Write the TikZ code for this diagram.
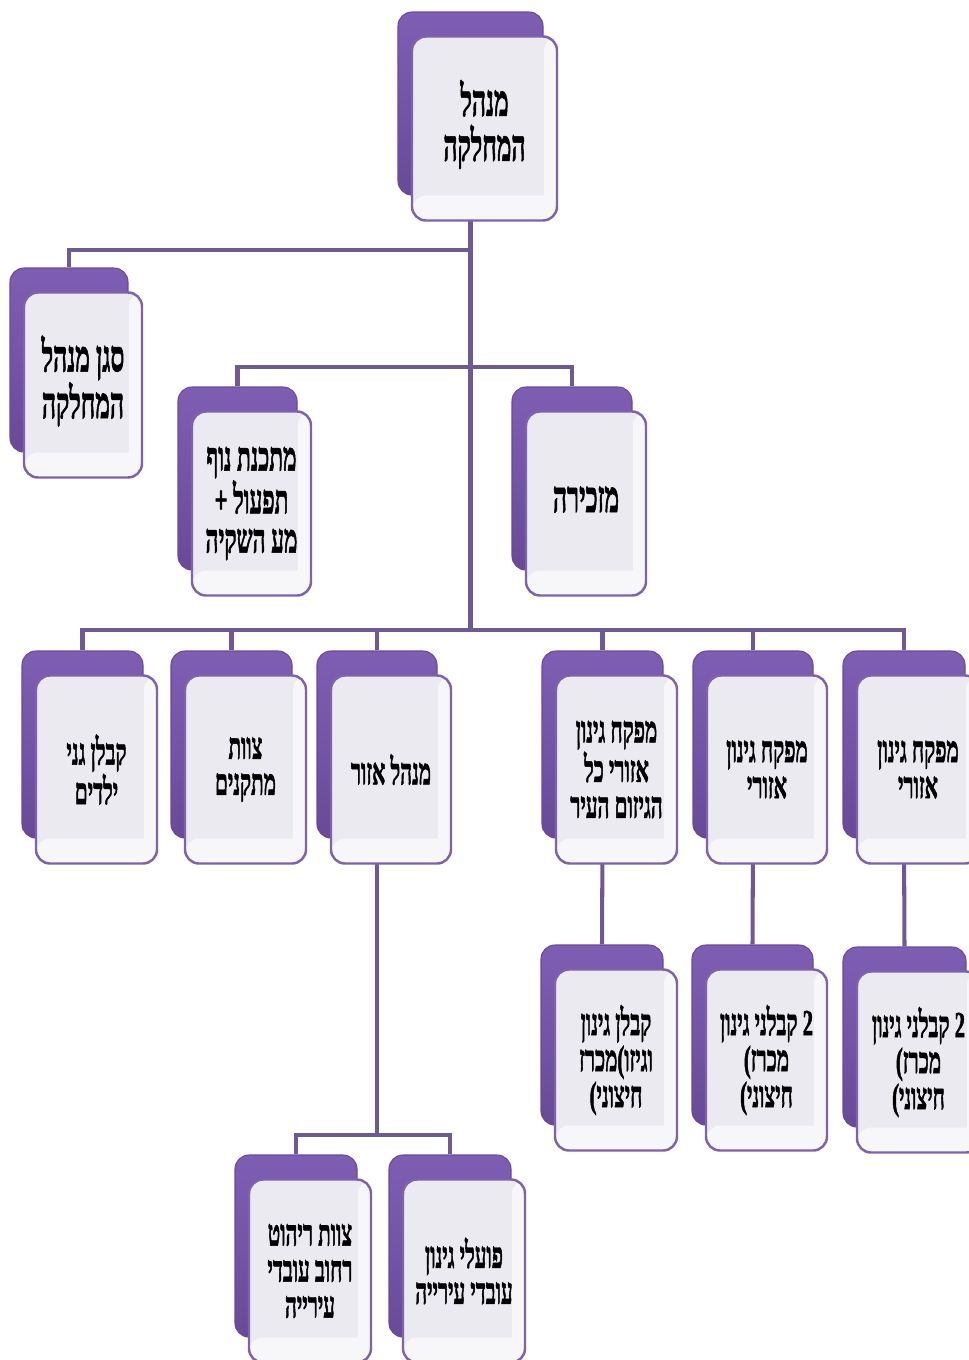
\documentclass[tikz,border=0pt]{standalone}
\usepackage{fontspec}
\newfontfamily\heb[Script=Hebrew,FakeStretch=0.56,BoldFeatures={FakeBold=1.2}]{Liberation Serif}
\newfontfamily\lat[FakeStretch=0.56,BoldFeatures={FakeBold=1.2}]{Liberation Serif}
\TeXXeTstate=1
\definecolor{pdark}{HTML}{684A98}
\definecolor{pmain}{HTML}{7E5EB3}
\definecolor{plight}{HTML}{C6A6F6}
\definecolor{frontfill}{HTML}{EBEAF0}
\definecolor{frontlight}{HTML}{F7F7F9}
\definecolor{frontedge}{HTML}{7E62AA}
\definecolor{linkcol}{HTML}{6E5A92}
\pgfdeclareverticalshading{backsh}{100bp}{color(0bp)=(pdark); color(25bp)=(pdark); color(75bp)=(pmain); color(90bp)=(pmain); color(100bp)=(plight)}
\pgfdeclarelayer{bg}
\pgfsetlayers{bg,main}
\newcommand\lp{\hbox{\lat\bfseries(}}
\newcommand\hw[1]{\hbox{\beginR #1\endR}}
\tikzset{
  backcard/.style={rectangle, rounded corners=0.28cm, shading=backsh, draw=pdark, line width=0.6pt, inner sep=0pt},
  frontcard/.style={rectangle, rounded corners=0.28cm, fill=frontfill, draw=frontedge, line width=1.4pt, inner sep=0pt,
    path picture={\fill[frontlight] (path picture bounding box.south west) rectangle ([yshift=0.5cm]path picture bounding box.south east);
                  \fill[frontlight] ([xshift=-0.26cm]path picture bounding box.south east) rectangle (path picture bounding box.north east);}},
  lbl/.style={align=center, inner sep=0pt, font=\heb\bfseries\fontsize{21}{20.5}\selectfont},
  midlbl/.style={align=center, inner sep=0pt, font=\heb\bfseries\fontsize{23}{22.3}\selectfont},
  biglbl/.style={align=center, inner sep=0pt, yshift=0.08cm, font=\heb\bfseries\fontsize{25}{25.5}\selectfont},
  link/.style={draw=linkcol, line width=2.3pt}
}
% #1 name, #2 x1, #3 y1, #4 x2, #5 y2, #6 label style, #7 text
\newcommand\orgbox[7]{%
  \node[backcard, minimum width={0.02cm*(#4-#2)}, minimum height={0.02cm*(#5-#3)}] (#1B) at ({(#2+#4)/2},{(#3+#5)/2}) {};
  \node[frontcard, minimum width={0.02cm*(#4-#2)}, minimum height={0.02cm*(#5-#3)+0.02cm}] (#1F) at ({(#2+#4)/2+14},{(#3+#5)/2+25}) {};
  \node[#6] (#1T) at (#1F.center) {#7};
}
\begin{document}
\begin{tikzpicture}[x=0.02cm, y=-0.02cm]
\useasboundingbox (0,0) rectangle (969,1360);

\orgbox{top}{398}{12}{543}{195}{biglbl}{\hw{מנהל}\\\hw{המחלקה}}
\orgbox{sgan}{10}{268}{128}{452}{biglbl}{\hw{סגן מנהל}\\\hw{המחלקה}}
\orgbox{mtkn}{178}{387}{297}{570}{midlbl}{\hw{מתכנת נוף}\\+ \hw{תפעול}\\\hw{מע השקיה}}
\orgbox{mzk}{512}{387}{632}{570}{biglbl}{\hw{מזכירה}}

\orgbox{ra}{22}{651}{143}{838}{lbl}{\hw{קבלן גני}\\\hw{ילדים}}
\orgbox{rb}{171}{651}{292}{838}{lbl}{\hw{צוות}\\\hw{מתקנים}}
\orgbox{rc}{317}{651}{437}{838}{lbl}{\hw{מנהל אזור}}
\orgbox{rd}{542}{651}{663}{838}{lbl}{\hw{מפקח גינון}\\\hw{אזורי כל}\\\hw{הגיזום העיר}}
\orgbox{re}{693}{651}{813}{838}{lbl}{\hw{מפקח גינון}\\\hw{אזורי}}
\orgbox{rf}{843}{651}{965}{838}{lbl}{\hw{מפקח גינון}\\\hw{אזורי}}

\orgbox{qa}{541}{945}{663}{1125}{lbl}{\hw{קבלן גינון}\\\hw{מכרז}\lp\hw{וגיזו}\\\lp\hw{חיצוני}}
\orgbox{qb}{692}{945}{813}{1125}{lbl}{\hw{2 קבלני גינון}\\\lp\hw{מכרז}\\\lp\hw{חיצוני}}
\orgbox{qc}{843}{947}{966}{1127}{lbl}{\hw{2 קבלני גינון}\\\lp\hw{מכרז}\\\lp\hw{חיצוני}}

\orgbox{sa}{235}{1155}{357}{1337}{lbl}{\hw{צוות ריהוט}\\\hw{רחוב עובדי}\\\hw{עירייה}}
\orgbox{sb}{389}{1155}{511}{1337}{lbl}{\hw{פועלי גינון}\\\hw{עובדי עירייה}}

\coordinate (j1) at (topB.south |- 0,250);
\coordinate (j2) at (topB.south |- 0,367);
\coordinate (j3) at (topB.south |- 0,630);
\coordinate (j4) at (rcB.south |- 0,1135);

\begin{pgfonlayer}{bg}
  \draw[link] (topB.south) -- (j3);
  \draw[link] (j1) -| (sganB.north);
  \draw[link] (mtknB.north) |- (j2) -| (mzkB.north);
  \draw[link] (raB.north) |- (j3) -| (rfB.north);
  \draw[link] (rbB.north) -- (rbB.north |- j3);
  \draw[link] (rcB.north) -- (rcB.north |- j3);
  \draw[link] (rdB.north) -- (rdB.north |- j3);
  \draw[link] (reB.north) -- (reB.north |- j3);
  \draw[link] (rdB.south) -- (qaB.north);
  \draw[link] (reB.south) -- (qbB.north);
  \draw[link] (rfB.south) -- (qcB.north);
  \draw[link] (rcB.south) -- (j4);
  \draw[link] (saB.north) |- (j4) -| (sbB.north);
\end{pgfonlayer}
\end{tikzpicture}
\end{document}
